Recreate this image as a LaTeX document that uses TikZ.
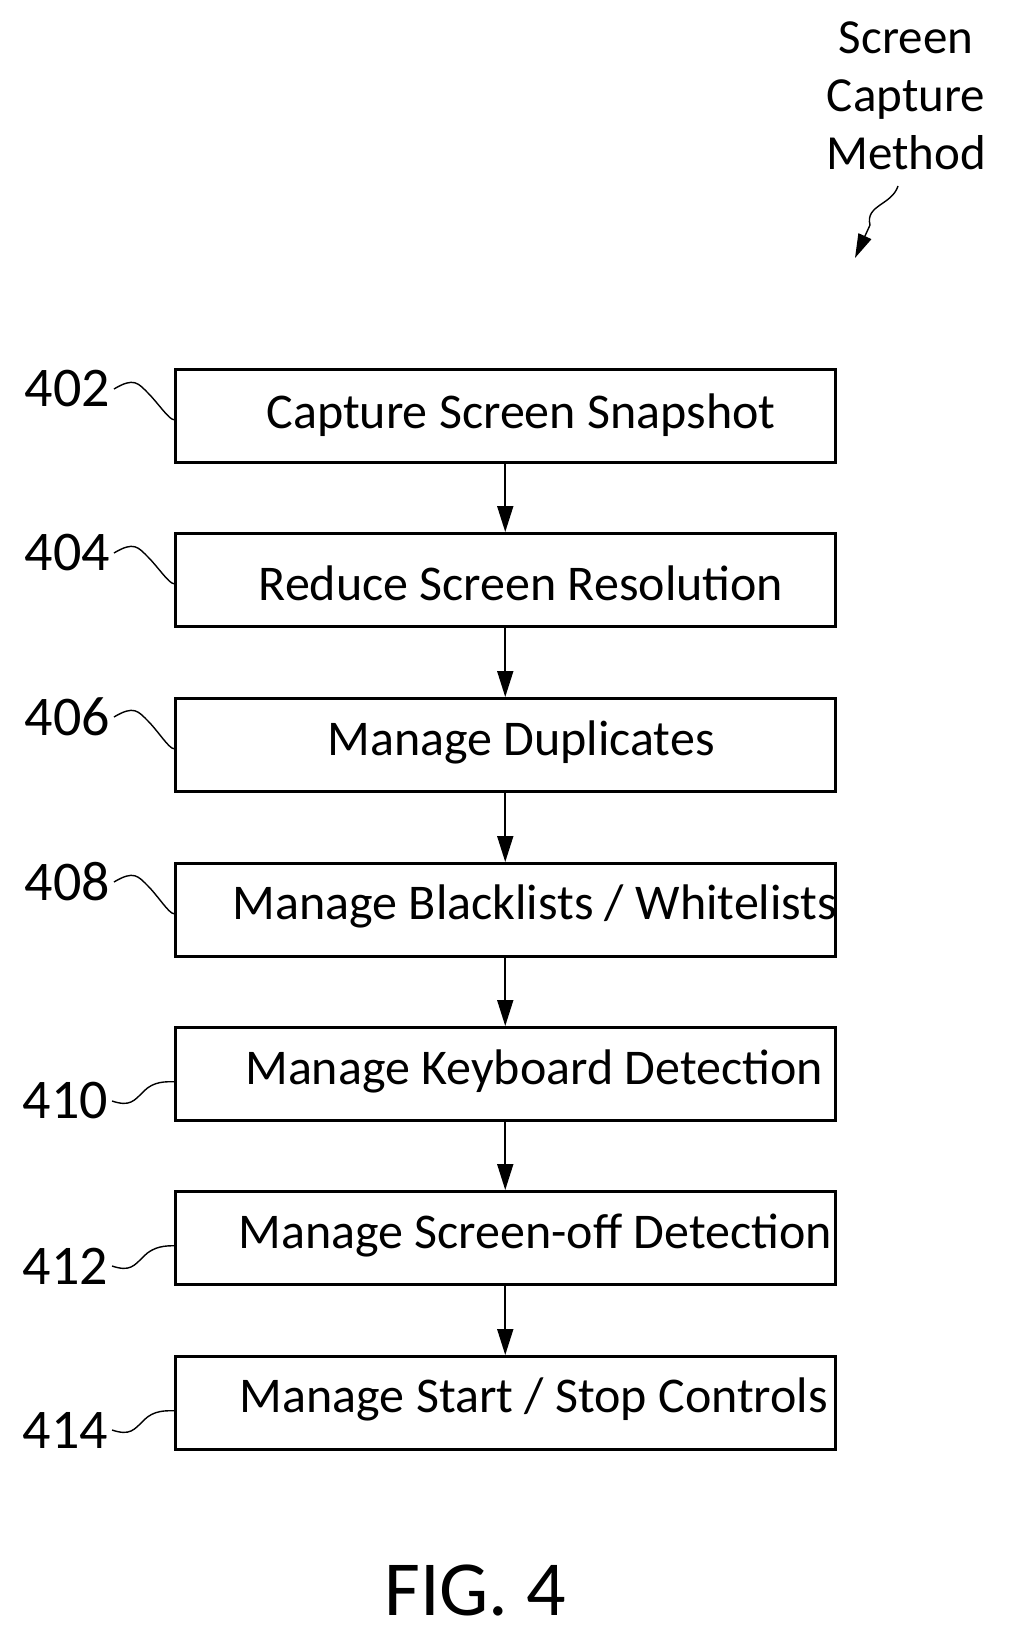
\documentclass[tikz,border=0pt]{standalone}
\usepackage{fontspec}
\setmainfont{Carlito}
\usetikzlibrary{arrows.meta}
\begin{document}
\begin{tikzpicture}[x=1pt,y=-1pt,
  box/.style={draw,line width=2.5pt,minimum width=660pt,minimum height=93pt,anchor=north west,inner sep=0},
  txt/.style={font=\fontsize{50}{54}\selectfont},
  lab/.style={font=\fontsize{56}{60}\selectfont,inner sep=0},
  arr/.style={line width=1.8pt,-{Triangle[length=26pt,width=16pt]}},
  sq/.style={line width=1.4pt}]
\useasboundingbox (0,0) rectangle (1011,1643);
\foreach \i/\t in {1/368,2/532,3/697,4/862,5/1026,6/1190,7/1355}{
  \node[box] (b\i) at (174,\t) {};
}
\node[txt] (t1) at (521,415) {Capture Screen Snapshot};
\node[txt] (t2) at (521,583) {Reduce Screen Resolution};
\node[txt] (t3) at (521,742) {Manage Duplicates};
\node[txt] (t4) at (535,906) {Manage Blacklists / Whitelists};
\node[txt] (t5) at (534,1071) {Manage Keyboard Detection};
\node[txt] (t6) at (535,1235) {Manage Screen-off Detection};
\node[txt] (t7) at (534,1399) {Manage Start / Stop Controls};
\foreach \a/\b in {1/2,2/3,3/4,4/5,5/6,6/7}{
  \draw[arr] (b\a.south) -- (b\b.north);
}
\node[lab,anchor=east] (l1) at (110,389) {402};
\node[lab,anchor=east] (l2) at (110,553) {404};
\node[lab,anchor=east] (l3) at (110,717) {406};
\node[lab,anchor=east] (l4) at (110,882) {408};
\node[lab,anchor=east] (l5) at (108,1101) {410};
\node[lab,anchor=east] (l6) at (108,1266) {412};
\node[lab,anchor=east] (l7) at (108,1430) {414};
\foreach \i in {1,2,3,4}{
  \draw[sq] ([xshift=4pt]l\i.east) .. controls +(20,-12) and +(-10,-10) .. ++(34,4) .. controls +(10,10) and +(-5,0) .. ([yshift=-4pt]b\i.west);
}
\foreach \i in {5,6,7}{
  \draw[sq] ([xshift=4pt]l\i.east) .. controls +(18,6) and +(-10,10) .. ++(32,-10) .. controls +(10,-10) and +(-8,0) .. ([yshift=-8pt]b\i.west);
}
\node[lab,font=\fontsize{49}{58}\selectfont,align=center] (title) at (906,96) {Screen\\Capture\\Method};
\coordinate (c1) at (898,186);
\coordinate (c2) at (855,258);
\draw[line width=1.4pt,-{Triangle[length=24pt,width=14pt]}] (c1) .. controls (892,205) and (865,205) .. (870,225) -- (c2);
\node[font=\fontsize{78}{84}\selectfont] (fig) at (475,1590) {FIG. 4};
\end{tikzpicture}
\end{document}
